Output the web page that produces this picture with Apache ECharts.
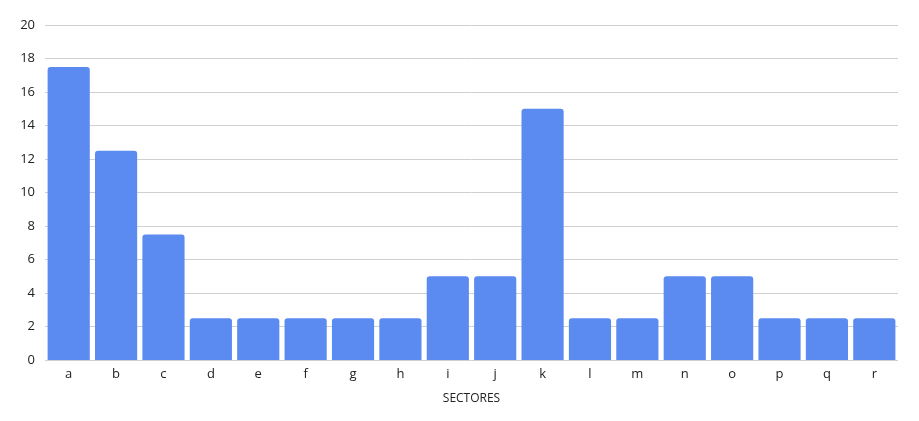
<!DOCTYPE html>
<html lang="es">
<head>
    <meta charset="utf-8">
    <title>Sectores</title>
    <style>
        html, body { margin: 0; padding: 0; background: #fff; }
        #chart { width: 919px; height: 421px; }
    </style>
</head>
<body>
    <div id="chart"></div>
<script src="https://cdn.jsdelivr.net/npm/echarts@6/dist/echarts.min.js"></script>
<script>
    // datos del gráfico
    var categories = ['a', 'b', 'c', 'd', 'e', 'f', 'g', 'h', 'i', 'j', 'k', 'l', 'm', 'n', 'o', 'p', 'q', 'r'];
    var values = [17.5, 12.5, 7.5, 2.5, 2.5, 2.5, 2.5, 2.5, 5, 5, 15, 2.5, 2.5, 5, 5, 2.5, 2.5, 2.5];
    var yTicks = [0, 2, 4, 6, 8, 10, 12, 14, 16, 18, 20];

    var myChart = echarts.init(document.getElementById('chart'));

    var option = {
        animation: false,
        textStyle: { fontFamily: 'Open Sans' },
        grid: { left: 45, right: 21, top: 25, bottom: 61 },
        xAxis: {
            type: 'category',
            data: categories,
            name: 'SECTORES',
            nameLocation: 'middle',
            nameGap: 33,
            nameTextStyle: { color: '#222', fontSize: 12 },
            axisLine: { show: false },
            axisTick: { show: false },
            axisLabel: { color: '#222', fontSize: 13, margin: 8 }
        },
        yAxis: {
            type: 'value',
            min: yTicks[0],
            max: yTicks[yTicks.length - 1],
            interval: 2,
            axisLine: { show: false },
            axisTick: { show: false },
            axisLabel: { color: '#222', fontSize: 13, margin: 10 },
            splitLine: { lineStyle: { color: '#d0d0d0' } }
        },
        series: [{
            type: 'bar',
            data: values,
            barCategoryGap: '11%',
            itemStyle: { color: '#5b8bf0', borderRadius: [3, 3, 0, 0] }
        }]
    };
    myChart.setOption(option);
</script>
</body>
</html>
